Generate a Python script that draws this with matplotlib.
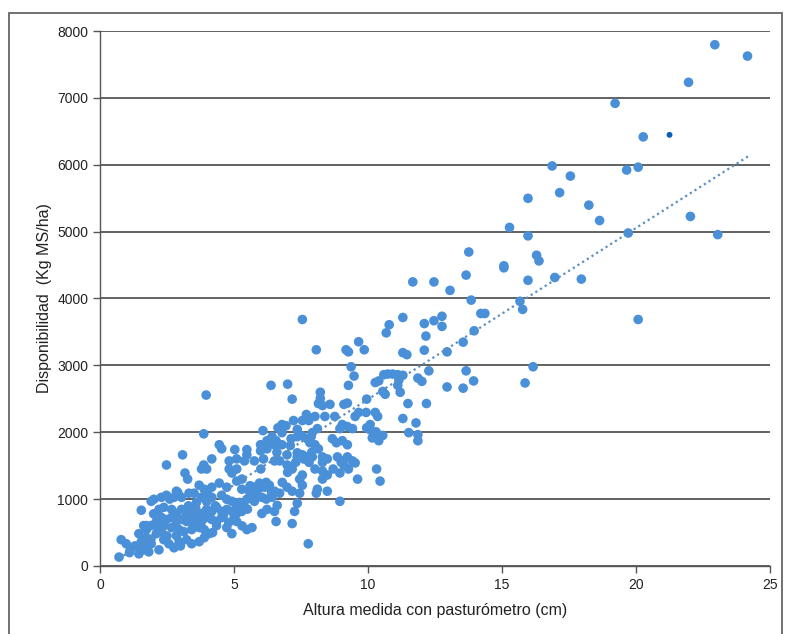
import numpy as np
import matplotlib
matplotlib.use("Agg")
from matplotlib import pyplot as plt
from matplotlib.patches import Rectangle

plt.rcParams["font.family"] = ["Liberation Sans", "DejaVu Sans"]

# altura (cm), disponibilidad (kg MS/ha)
altura = [
    22.94, 24.16, 21.96, 19.22, 20.27, 16.87, 19.65, 20.08, 17.55, 17.15,
    15.97, 18.24, 18.64, 15.28, 22.03, 19.71, 15.97, 23.05, 16.29, 16.38,
    15.07, 15.07, 13.76, 13.66, 15.97, 16.97, 17.96, 11.67, 12.46, 13.06,
    13.85, 15.67, 15.77, 14.21, 14.36, 20.08, 13.96, 12.76, 12.76, 12.46,
    12.10, 12.16, 11.30, 10.79, 10.68, 7.55, 8.07, 9.65, 9.86, 9.18,
    9.27, 13.55, 12.95, 12.10, 11.30, 11.45, 9.37, 9.48,
    16.16, 12.27, 13.66, 10.59, 10.74, 10.92, 11.11, 11.30, 10.27, 10.40,
    11.86, 12.01, 13.94, 13.55, 12.95, 15.86, 11.15, 11.11, 11.20, 10.55,
    10.64, 9.27, 6.38, 7.00, 7.17, 3.96, 11.49, 12.18, 11.30, 11.79,
    11.52, 11.86, 11.86,
    8.22, 8.22, 8.15, 8.30, 8.58, 9.10, 9.23, 9.52, 9.65, 9.93,
    10.27, 10.36, 9.95, 7.70, 7.55, 7.79, 8.02, 8.39, 8.11, 7.92,
    8.76, 9.04, 8.95, 9.23, 9.42, 10.08, 9.95, 10.08, 10.30, 10.55,
    10.16, 10.40, 6.08, 6.64, 6.79, 6.94, 7.22, 7.36, 3.87, 6.79,
    4.45, 4.54, 5.03, 5.48, 5.99, 6.23, 6.42, 6.57, 5.99, 6.23,
    6.51, 6.79, 7.13, 7.36, 7.55, 7.73, 7.88, 7.83, 8.02, 8.15,
    7.36, 6.98, 7.55, 7.73, 7.36, 7.92, 8.30, 8.48, 8.67, 8.82,
    9.04, 9.23, 8.86, 9.04, 9.23, 9.42, 9.52, 9.10, 9.27, 9.61,
    10.32, 10.45, 6.51, 6.70, 6.98, 7.17, 7.55, 7.45, 8.02, 8.30,
    8.48, 8.30, 8.11, 8.48, 8.07, 8.95, 8.95, 5.48, 5.76, 5.39,
    5.10, 4.82, 4.82, 4.92, 5.10, 2.48, 3.08, 3.79, 3.98, 4.17,
    3.87,
    3.17, 3.27, 3.70, 3.89, 4.17, 4.45, 4.73, 5.10, 5.29, 5.57,
    5.76, 5.95, 6.14, 6.32, 6.51, 6.70, 6.42, 6.04, 5.67, 5.48,
    5.76, 5.39, 5.10, 4.92, 4.73, 4.54, 4.17, 3.98, 3.79, 3.51,
    3.32, 3.04, 2.85, 2.76, 2.48, 2.29, 2.01, 6.98, 7.17, 7.45,
    7.55, 7.36, 7.26, 7.17, 7.77, 6.61, 6.51, 6.23, 6.04, 6.57,
    5.67, 5.48, 5.10,
    1.91, 2.20, 2.38, 2.67, 2.85, 3.04, 3.23, 3.42, 3.60, 3.79,
    3.98, 4.17, 4.35, 4.54, 4.73, 4.92, 5.10, 5.29, 5.01, 4.54,
    4.35, 4.17, 3.98, 3.79, 3.60, 3.42, 3.23, 3.04, 2.85, 2.67,
    2.48, 2.29, 2.10, 1.91, 1.54, 3.70, 3.89, 3.42, 3.13, 2.95,
    2.67, 2.38, 2.29, 4.07, 4.35, 4.73, 4.92, 1.73,
    0.71, 0.79, 0.98, 1.13, 1.45, 1.63, 1.54, 1.73, 1.63, 1.82,
    1.54, 1.91, 1.73, 1.63, 1.45, 2.20, 2.38, 2.57, 2.76, 2.95,
    3.23, 3.42, 3.70, 3.89, 2.85, 2.10,
    2.60, 2.90, 3.30, 3.60, 4.00, 4.30, 4.60, 5.20, 5.50, 5.80,
    6.20, 6.40, 6.80, 7.00, 7.30, 7.60, 7.80, 6.00, 6.60, 5.30,
    5.60, 2.20, 1.90, 2.50, 3.00, 3.50, 4.20, 4.80, 5.30, 5.90,
    6.10, 7.10, 7.90, 8.30, 8.70, 9.00, 6.20, 1.30, 1.10, 2.00,
]
disponibilidad = [
    7795, 7625, 7233, 6918, 6417, 5982, 5921, 5964, 5831, 5583,
    5498, 5396, 5166, 5063, 5227, 4979, 4937, 4955, 4647, 4562,
    4489, 4459, 4695, 4350, 4272, 4314, 4290, 4248, 4248, 4121,
    3976, 3958, 3837, 3776, 3776, 3686, 3517, 3734, 3583, 3668,
    3625, 3438, 3716, 3607, 3486, 3686, 3233, 3353, 3233, 3233,
    3202, 3347, 3202, 3227, 3190, 3160, 2979, 2840,
    2979, 2918, 2918, 2860, 2870, 2870, 2860, 2852, 2743, 2767,
    2810, 2761, 2767, 2659, 2677, 2737, 2779, 2701, 2598, 2610,
    2568, 2701, 2701, 2719, 2495, 2556, 2429, 2429, 2205, 2139,
    1994, 1964, 1873,
    2598, 2507, 2429, 2399, 2417, 2417, 2435, 2236, 2296, 2296,
    2296, 2236, 2495, 2266, 2175, 2175, 2236, 2236, 2054, 1994,
    2236, 2115, 2054, 2085, 2054, 2115, 2066, 2036, 2006, 1952,
    1915, 1873, 2024, 2066, 2115, 2097, 2175, 2042, 1976, 1994,
    1813, 1752, 1740, 1740, 1813, 1873, 1934, 1873, 1722, 1752,
    1813, 1813, 1903, 1934, 1946, 1903, 1934, 1843, 1813, 1752,
    1692, 1662, 1662, 1631, 1631, 1631, 1631, 1601, 1903, 1843,
    1873, 1813, 1631, 1571, 1631, 1571, 1541, 1510, 1450, 1299,
    1450, 1269, 1571, 1571, 1510, 1450, 1360, 1299, 1450, 1420,
    1360, 1299, 1148, 1118, 1088, 1390, 967, 1662, 1571, 1571,
    1601, 1571, 1450, 1390, 1450, 1510, 1662, 1450, 1450, 1601,
    1510,
    1390, 1299, 1208, 1148, 1178, 1239, 1178, 1269, 1148, 1118,
    1178, 1239, 1178, 1208, 1118, 1088, 1027, 1027, 1057, 997,
    967, 876, 906, 967, 997, 1057, 1027, 967, 1027, 1088,
    1088, 1027, 1118, 1027, 1057, 1027, 997, 1178, 1118, 1088,
    1208, 937, 816, 634, 332, 906, 816, 846, 785, 665,
    574, 544, 665,
    967, 846, 876, 846, 785, 846, 785, 846, 816, 785,
    846, 816, 876, 816, 846, 816, 785, 816, 725, 725,
    665, 695, 725, 665, 695, 725, 665, 695, 665, 725,
    695, 725, 665, 604, 834, 574, 544, 544, 514, 544,
    574, 604, 514, 483, 604, 574, 483, 604,
    133, 393, 332, 242, 181, 242, 363, 423, 302, 211,
    272, 332, 544, 604, 483, 242, 393, 332, 272, 363,
    393, 332, 363, 423, 453, 483,
    1000, 1100, 900, 950, 1100, 900, 750, 950, 850, 1050,
    1000, 1100, 1250, 1400, 1550, 1600, 1550, 1450, 1700, 1300,
    1200, 550, 400, 450, 300, 600, 500, 650, 600, 1150,
    1600, 1800, 1700, 1550, 1450, 1550, 1250, 300, 200, 780,
]

# single darker point near x=21
punto_x = [21.25]
punto_y = [6447]

# trend line end points
tendencia_x = [0.7, 24.2]
tendencia_y = [110, 6130]

fig = plt.figure(figsize=(7.9, 6.34), dpi=100)
ax = fig.add_axes([0.1266, 0.1073, 0.8481, 0.8438])

ax.yaxis.grid(True, color="#555555", linewidth=1.3)
ax.set_axisbelow(True)

ax.scatter(altura, disponibilidad, s=48, color="#4a90d9", edgecolors="none", zorder=3)
ax.scatter(punto_x, punto_y, s=18, color="#0a5fb8", edgecolors="none", zorder=3)

ax.plot(tendencia_x, tendencia_y, linestyle=(0, (1, 1.5)), color="#5b8fc0",
        linewidth=1.6, zorder=4)

ax.set_xlim(0, 25)
ax.set_ylim(0, 8000)
ax.set_xticks([0, 5, 10, 15, 20, 25])
ax.set_yticks(range(0, 8001, 1000))

for side in ["top", "right"]:
    ax.spines[side].set_visible(False)
for side in ["left", "bottom"]:
    ax.spines[side].set_color("#555555")
    ax.spines[side].set_linewidth(1.0)
ax.tick_params(axis="both", colors="#555555", labelcolor="#222222",
               labelsize=10, length=5, width=1.0, direction="out")

ax.set_xlabel("Altura medida con pasturómetro (cm)", fontsize=11.5,
              color="#222222", labelpad=8)
ax.set_ylabel("Disponibilidad  (Kg MS/ha)", fontsize=11.5, color="#222222",
              labelpad=4)

# frame around the picture
fig.patches.append(Rectangle((0.011, -0.01), 0.979, 0.99, transform=fig.transFigure,
                             fill=False, edgecolor="#666666", linewidth=1.3))

fig.savefig("out.png", dpi=100, facecolor="white")
